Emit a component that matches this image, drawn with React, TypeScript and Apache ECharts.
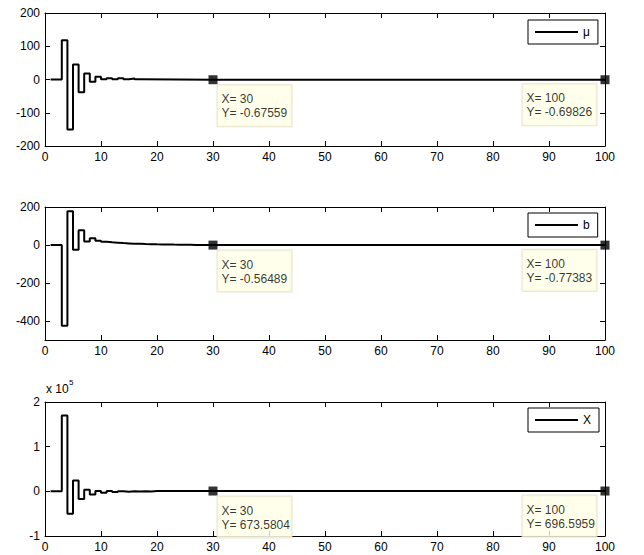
import React, { useEffect, useRef } from "react";
import * as echarts from "echarts";

// ---- data ----
const seriesNames = ["μ", "b", "X"];

const muX = [1, 2, 3, 4, 5, 6, 7, 8, 9, 10, 11, 12, 13, 14, 15, 16, 17, 30, 100];
const muY = [0, 0, 118, -150, 45, -38, 18, -7, 8, 1, 4, 1, 4, 1, 3, 0.5, -0.68, -0.67559, -0.69826];

const bX = [1, 2, 3, 4, 5, 6, 7, 8, 9, 10, 11, 12, 13, 14, 15, 16, 17, 18, 19, 20, 21, 22, 23, 24, 25, 26, 27, 28, 30, 100];
const bY = [0, 0, -425, 178, -25, 78, 18, 36, 22, 17, 14, 12, 10, 8.5, 7, 6, 5, 4.2, 3.5, 3, 2.5, 2, 1.6, 1.2, 0.9, 0.5, 0.2, -0.3, -0.56489, -0.77383];

const xX = [1, 2, 3, 4, 5, 6, 7, 8, 9, 10, 11, 12, 13, 14, 15, 16, 17, 18, 19, 20, 30, 100];
const xY = [0, 0, 170000, -50000, 24000, -17000, 3500, -7000, 1000, -3000, 500, -1500, 300, -900, 200, -600, 300, -300, 500, 600, 673.5804, 696.5959];

const tipX = [30, 100];
const muTipY = [-0.67559, -0.69826];
const bTipY = [-0.56489, -0.77383];
const xTipY = [673.5804, 696.5959];

const xTicks = { min: 0, max: 100, interval: 10 };
const muTicks = [-200, -100, 0, 100, 200];
const bTicks = [-400, -200, 0, 200];
const xTicksY = [-100000, 0, 100000, 200000];

// ---- layout ----
const gridTops = [13, 207, 402];
const gridHeights = [133, 133, 134];
const FONT = "'Liberation Sans', Arial, sans-serif";

function pairs(xs: number[], ys: number[]) {
  return xs.map((x, i) => [x, ys[i]]);
}

export default function App() {
  const ref = useRef<HTMLDivElement>(null);
  useEffect(() => {
    if (!ref.current) return;
    const chart = echarts.init(ref.current, undefined, { renderer: "svg" });

    const grids = gridTops.map((t, i) => ({
      left: 45,
      right: 39,
      top: t,
      height: gridHeights[i],
      show: false,
    }));

    const axisLine = { show: true, onZero: false, lineStyle: { color: "#000", width: 1 } };
    const axisTick = { show: true, inside: true, length: 5, lineStyle: { color: "#000" } };
    const labelStyle = { color: "#000", fontSize: 12, fontFamily: FONT };

    const xAxes: any[] = [];
    gridTops.forEach((_, i) => {
      xAxes.push({
        type: "value",
        gridIndex: i,
        position: "bottom",
        min: xTicks.min,
        max: xTicks.max,
        interval: xTicks.interval,
        axisLine,
        axisTick,
        splitLine: { show: false },
        axisLabel: { ...labelStyle, margin: 5 },
      });
      xAxes.push({
        type: "value",
        gridIndex: i,
        position: "top",
        min: xTicks.min,
        max: xTicks.max,
        interval: xTicks.interval,
        axisLine,
        axisTick,
        splitLine: { show: false },
        axisLabel: { show: false },
      });
    });

    const yDefs = [
      { min: -200, max: 200, ticks: muTicks, fmt: (v: number) => String(v) },
      { min: -500, max: 200, ticks: bTicks, fmt: (v: number) => String(v) },
      { min: -100000, max: 200000, ticks: xTicksY, fmt: (v: number) => String(v / 100000) },
    ];
    const yAxes: any[] = [];
    yDefs.forEach((d, i) => {
      yAxes.push({
        type: "value",
        gridIndex: i,
        position: "left",
        min: d.min,
        max: d.max,
        axisLine,
        axisTick: { ...axisTick, customValues: d.ticks },
        splitLine: { show: false },
        axisLabel: { ...labelStyle, margin: 5, customValues: d.ticks, formatter: d.fmt },
      });
      yAxes.push({
        type: "value",
        gridIndex: i,
        position: "right",
        min: d.min,
        max: d.max,
        axisLine,
        axisTick: { ...axisTick, customValues: d.ticks },
        splitLine: { show: false },
        axisLabel: { show: false, customValues: d.ticks },
      });
    });

    const lineData = [pairs(muX, muY), pairs(bX, bY), pairs(xX, xY)];
    const tipData = [pairs(tipX, muTipY), pairs(tipX, bTipY), pairs(tipX, xTipY)];

    const series: any[] = [];
    lineData.forEach((data, i) => {
      series.push({
        name: seriesNames[i],
        type: "line",
        xAxisIndex: i * 2,
        yAxisIndex: i * 2,
        step: "end",
        symbol: "none",
        data,
        lineStyle: { color: "#000", width: 2 },
        itemStyle: { color: "#000" },
        z: 3,
      });
      series.push({
        name: "tip" + i,
        type: "scatter",
        xAxisIndex: i * 2,
        yAxisIndex: i * 2,
        symbol: "rect",
        symbolSize: 9,
        clip: false,
        itemStyle: { color: "#000" },
        z: 5,
        data: tipData[i].map((p, j) => ({
          value: p,
          label: {
            show: true,
            position: j === 0 ? [9, 10] : [-78, 9],
            align: "left",
            verticalAlign: "top",
            width: 66,
            overflow: "none",
            formatter: () => `X= ${p[0]}\nY= ${p[1]}`,
            fontFamily: FONT,
            fontSize: 12,
            lineHeight: 14,
            color: "#000",
            backgroundColor: "#ffffe6",
            borderColor: "#e2dcc0",
            borderWidth: 1,
            padding: [7, 4, 6, 4],
          },
        })),
      });
    });

    const legendTops = [20, 213, 408];
    const legends = seriesNames.map((n, i) => ({
      data: [n],
      left: 528,
      top: legendTops[i],
      orient: "vertical",
      backgroundColor: "#fff",
      borderColor: "#000",
      borderWidth: 1,
      borderRadius: 0,
      padding: [5, 8, 5, 7],
      icon: "rect",
      itemWidth: 43,
      itemHeight: 2,
      itemGap: 0,
      itemStyle: { color: "#000", borderWidth: 0 },
      selectedMode: false,
      textStyle: { color: "#000", fontSize: 12, fontFamily: FONT, lineHeight: 14 },
    }));

    chart.setOption({
      animation: false,
      backgroundColor: "#fff",
      grid: grids,
      xAxis: xAxes,
      yAxis: yAxes,
      legend: legends,
      series,
      graphic: [
        {
          type: "text",
          left: 46,
          top: 383,
          style: { text: "x 10", fontSize: 12, fontFamily: FONT, fill: "#000" },
        },
        {
          type: "text",
          left: 69,
          top: 378,
          style: { text: "5", fontSize: 8, fontFamily: FONT, fill: "#000" },
        },
      ],
    });
    return () => chart.dispose();
  }, []);
  return (
    <div
      ref={ref}
      style={{ position: "absolute", left: 0, top: 0, width: 644, height: 555 }}
    />
  );
}
